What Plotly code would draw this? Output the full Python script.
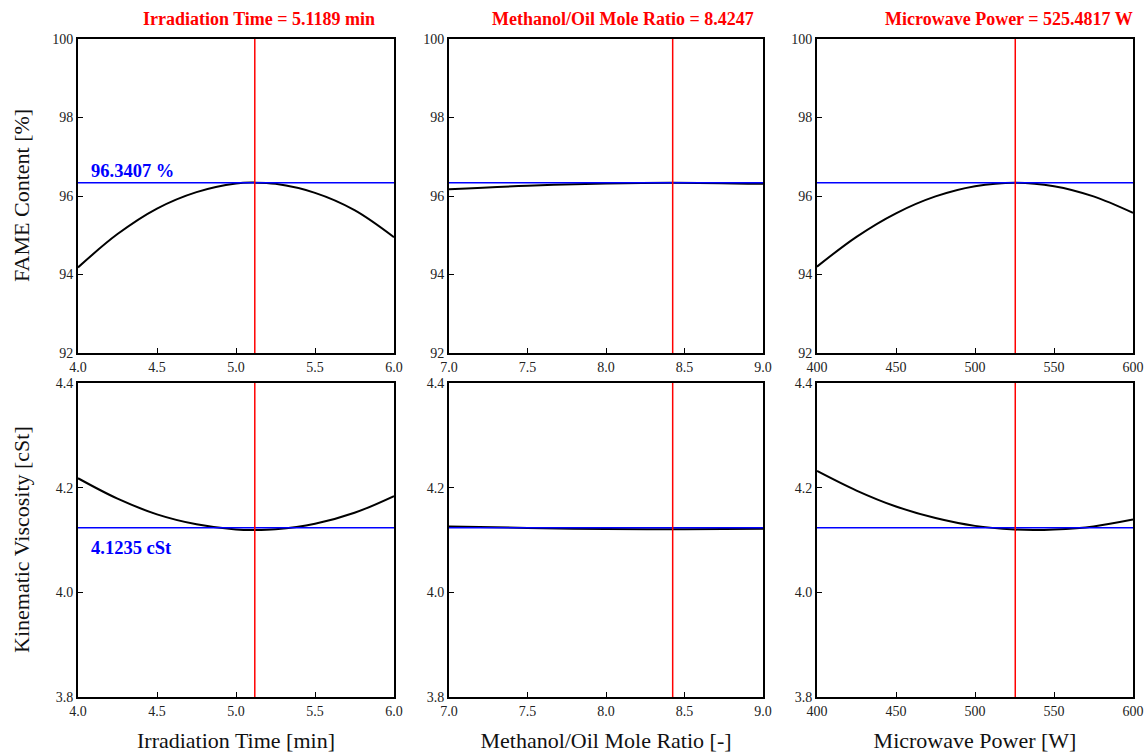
import plotly.graph_objects as go

# ---- data ----
time_x = [4.0, 4.25, 4.5, 4.75, 5.0, 5.1189, 5.25, 5.5, 5.75, 6.0]
time_fame = [94.18, 95.03, 95.68, 96.10, 96.32, 96.3407, 96.31, 96.08, 95.64, 94.95]
time_visc_x = [4.0, 4.25, 4.5, 4.75, 5.0, 5.12, 5.25, 5.5, 5.75, 6.0]
time_visc = [4.218, 4.179, 4.149, 4.130, 4.120, 4.119, 4.1204, 4.131, 4.152, 4.184]

ratio_x = [7.0, 7.5, 8.0, 8.4247, 9.0]
ratio_fame = [96.17, 96.26, 96.32, 96.3407, 96.31]
ratio_visc_x = [7.0, 7.5, 8.0, 8.5, 9.0]
ratio_visc = [4.126, 4.123, 4.121, 4.1205, 4.1215]

power_x = [400, 425, 450, 475, 500, 525.4817, 550, 575, 600]
power_fame = [94.20, 94.96, 95.56, 95.99, 96.25, 96.3407, 96.25, 95.99, 95.57]
power_visc_x = [400, 425, 450, 475, 500, 525, 537, 550, 575, 600]
power_visc = [4.232, 4.1945, 4.164, 4.142, 4.127, 4.120, 4.119, 4.120, 4.126, 4.139]

opt_x = [5.1189, 8.4247, 525.4817]
opt_fame = 96.3407
opt_visc = 4.1235

x_ranges = [[4.0, 6.0], [7.0, 9.0], [400, 600]]
x_dticks = [0.5, 0.5, 50]
x_formats = [".1f", ".1f", "d"]
x_titles = ["Irradiation Time [min]", "Methanol/Oil Mole Ratio [-]", "Microwave Power [W]"]
panel_titles = ["Irradiation Time = 5.1189 min", "Methanol/Oil Mole Ratio = 8.4247",
                "Microwave Power = 525.4817 W"]
fame_range = [92, 100]
visc_range = [3.8, 4.4]
y_titles = ["FAME Content [%]", "Kinematic Viscosity [cSt]"]

curves_top = [(time_x, time_fame), (ratio_x, ratio_fame), (power_x, power_fame)]
curves_bot = [(time_visc_x, time_visc), (ratio_visc_x, ratio_visc), (power_visc_x, power_visc)]

W, H = 1148, 755
FONT = "Liberation Serif"
xdom_px = [(78, 394), (449, 763), (817, 1133)]
ydom_px = [(39, 353), (383, 697)]  # top row, bottom row
title_cx_px = [259, 623, 1009]

fig = go.Figure()
layout = dict(
    width=W, height=H, margin=dict(l=0, r=0, t=0, b=0, autoexpand=False),
    paper_bgcolor="white", plot_bgcolor="white", showlegend=False,
    font=dict(family=FONT, color="black"),
)

annotations = []
for row in range(2):
    for col in range(3):
        idx = row * 3 + col + 1
        xa = "x" if idx == 1 else f"x{idx}"
        ya = "y" if idx == 1 else f"y{idx}"
        xkey = "xaxis" if idx == 1 else f"xaxis{idx}"
        ykey = "yaxis" if idx == 1 else f"yaxis{idx}"
        x0, x1 = xdom_px[col]
        y0, y1 = ydom_px[row]
        yr = fame_range if row == 0 else visc_range
        yval = opt_fame if row == 0 else opt_visc
        cx, cy = (curves_top if row == 0 else curves_bot)[col]

        # response curve
        fig.add_trace(go.Scatter(x=cx, y=cy, xaxis=xa, yaxis=ya, mode="lines",
                                 line=dict(color="black", width=2, shape="spline"),
                                 hoverinfo="skip"))
        # horizontal optimum line
        fig.add_trace(go.Scatter(x=x_ranges[col], y=[yval, yval], xaxis=xa, yaxis=ya,
                                 mode="lines", line=dict(color="#0000ff", width=1.5),
                                 hoverinfo="skip"))
        # vertical optimum line
        fig.add_trace(go.Scatter(x=[opt_x[col], opt_x[col]], y=yr, xaxis=xa, yaxis=ya,
                                 mode="lines", line=dict(color="#ff0000", width=1.5),
                                 hoverinfo="skip"))

        layout[xkey] = dict(
            domain=[x0 / W, x1 / W], anchor=ya, range=x_ranges[col],
            dtick=x_dticks[col], tick0=x_ranges[col][0], tickformat=x_formats[col],
            ticks="inside", ticklen=5, tickwidth=1, tickcolor="black",
            showline=True, linecolor="black", linewidth=2, mirror=True,
            showgrid=False, zeroline=False, automargin=False,
            tickfont=dict(family=FONT, size=14, color="#222222"),
        )
        if row == 1:
            layout[xkey]["title"] = dict(text=x_titles[col], standoff=15,
                                         font=dict(family=FONT, size=22, color="#111111"))
        layout[ykey] = dict(
            domain=[1 - y1 / H, 1 - y0 / H], anchor=xa, range=yr,
            dtick=2 if row == 0 else 0.2, tickformat="d" if row == 0 else ".1f",
            ticks="inside", ticklen=5, tickwidth=1, tickcolor="black",
            showline=True, linecolor="black", linewidth=2, mirror=True,
            showgrid=False, zeroline=False, automargin=False,
            tickfont=dict(family=FONT, size=14, color="#222222"),
        )

        if row == 0:
            annotations.append(dict(
                text=f"<b>{panel_titles[col]}</b>", xref="paper", yref=f"{ya} domain",
                x=title_cx_px[col] / W, y=1, xanchor="center", yanchor="bottom", yshift=8,
                showarrow=False, font=dict(family=FONT, size=18, color="#ff0000")))

        if col == 0:
            if row == 0:
                annotations.append(dict(
                    text=f"<b>{opt_fame} %</b>", xref=f"{xa} domain", yref=ya,
                    x=0.035, y=opt_fame, xanchor="left", yanchor="bottom", yshift=0,
                    showarrow=False, font=dict(family=FONT, size=18.5, color="#0000ff")))
            else:
                annotations.append(dict(
                    text=f"<b>{opt_visc} cSt</b>", xref=f"{xa} domain", yref=ya,
                    x=0.035, y=opt_visc, xanchor="left", yanchor="top", yshift=-8,
                    showarrow=False, font=dict(family=FONT, size=18.5, color="#0000ff")))
            annotations.append(dict(
                text=y_titles[row], xref="paper", yref="paper",
                x=21 / W, y=1 - (y0 + y1) / 2 / H, xanchor="center", yanchor="middle",
                textangle=-90, showarrow=False,
                font=dict(family=FONT, size=22, color="#111111")))

layout["annotations"] = annotations
fig.update_layout(**layout)
fig.write_html("out.html")
